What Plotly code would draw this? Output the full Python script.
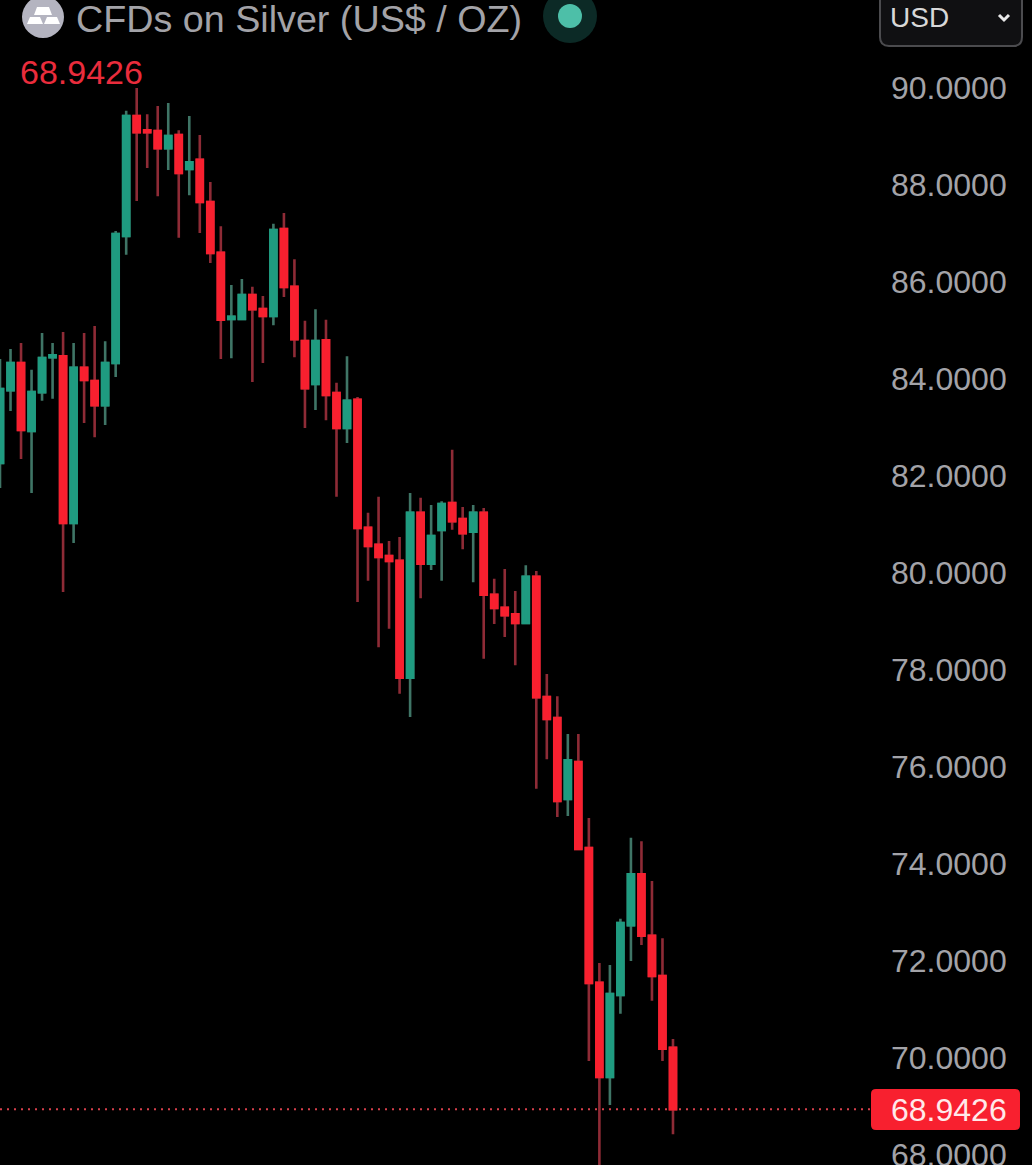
"""Candlestick chart of CFDs on Silver in a dark trading app style."""

import plotly.graph_objects as go

W, H = 1032, 1165

opens = [
    82.27, 83.77, 84.33, 82.93, 83.73, 84.45, 84.47, 81.03, 84.23, 83.96, 83.46, 84.33, 86.95,
    89.42, 89.13, 89.11, 88.76, 89.03, 88.33, 88.52, 87.65, 86.60, 85.24, 85.24, 85.73, 85.44,
    85.30, 87.09, 85.90, 84.78, 83.90, 84.80, 83.71, 82.99, 83.57, 80.93, 80.58, 80.35, 80.25,
    77.84, 81.24, 80.19, 80.89, 81.44, 81.11, 80.85, 81.24, 79.55, 79.28, 79.15, 78.97, 79.92,
    77.44, 77.01, 75.34, 76.10, 74.33, 71.55, 69.61, 71.30, 72.74, 73.79, 72.52, 71.69, 70.21,
]
highs = [
    84.41, 84.62, 84.74, 84.19, 84.95, 84.74, 84.97, 84.74, 84.95, 85.09, 84.78, 87.05, 89.53,
    90.00, 89.46, 89.63, 89.69, 89.13, 89.42, 89.03, 88.06, 87.15, 85.94, 86.06, 85.90, 85.71,
    87.20, 87.42, 86.47, 85.20, 85.44, 85.22, 83.92, 84.47, 83.63, 81.24, 81.57, 80.66, 80.74,
    81.65, 81.55, 81.40, 81.48, 82.54, 81.36, 81.40, 81.34, 79.88, 80.08, 79.63, 80.16, 80.04,
    77.92, 77.46, 76.68, 76.68, 74.95, 71.96, 71.92, 72.87, 74.54, 74.47, 73.65, 72.47, 70.39,
]
lows = [
    81.75, 83.34, 82.35, 81.65, 83.55, 83.59, 79.61, 80.62, 83.09, 82.80, 83.05, 84.04, 86.56,
    87.67, 88.35, 87.77, 88.31, 86.91, 87.79, 87.01, 86.39, 84.41, 84.43, 85.24, 83.94, 84.33,
    85.11, 85.69, 84.45, 82.99, 83.36, 83.15, 81.57, 82.68, 79.40, 79.84, 78.47, 78.85, 77.51,
    77.03, 79.48, 80.06, 79.84, 80.89, 80.49, 79.81, 78.23, 78.95, 78.68, 78.10, 78.95, 75.55,
    76.16, 74.97, 74.99, 74.31, 69.94, 67.59, 69.03, 70.91, 72.00, 72.33, 71.18, 69.94, 68.43,
]
closes = [
    83.79, 84.33, 82.95, 83.73, 84.43, 84.49, 81.03, 84.23, 83.98, 83.46, 84.33, 86.99, 89.42,
    89.09, 89.09, 88.76, 89.01, 88.25, 88.47, 87.65, 86.60, 85.22, 85.28, 85.73, 85.44, 85.30,
    87.07, 85.90, 84.82, 83.81, 84.78, 83.67, 82.99, 83.55, 80.93, 80.56, 80.33, 80.25, 77.84,
    81.24, 80.19, 80.76, 81.42, 81.07, 80.82, 81.24, 79.55, 79.28, 79.13, 78.97, 79.92, 77.44,
    76.99, 75.30, 76.14, 74.31, 71.55, 69.61, 71.32, 72.78, 73.79, 72.52, 71.69, 70.19, 68.9426,
]
candles = list(range(len(closes)))

price_ticks = [90, 88, 86, 84, 82, 80, 78, 76, 74, 72, 70]
price_labels = ["90.0000", "88.0000", "86.0000", "84.0000", "82.0000", "80.0000",
                "78.0000", "76.0000", "74.0000", "72.0000", "70.0000"]
bottom_tick = 68
bottom_label = "68.0000"
last_price = 68.9426
last_label = "68.9426"
title_text = "CFDs on Silver (US$ / OZ)"
currency = "USD"

RED = "#f8202f"
GREEN = "#1f9b80"
RED_WICK = "#8e2b36"
GREEN_WICK = "#3f7566"
GREY = "#a3a3a8"
FONT = "Liberation Sans"


def px(x):
    return x / W


def py(y):
    return 1 - y / H


def poly(points, close=True):
    """SVG path in paper coordinates from page pixel points."""
    path = "M " + " L ".join(f"{px(x):.5f},{py(y):.5f}" for x, y in points)
    return path + (" Z" if close else "")


def circle(cx, cy, r, color):
    return dict(type="circle", xref="paper", yref="paper", x0=px(cx - r), x1=px(cx + r),
                y0=py(cy + r), y1=py(cy - r), fillcolor=color, line_width=0, layer="above")


def rounded(x0, y0, x1, y1, r):
    """Rounded rectangle path in paper coordinates."""
    return (
        f"M {px(x0 + r):.5f},{py(y0):.5f} L {px(x1 - r):.5f},{py(y0):.5f} "
        f"Q {px(x1):.5f},{py(y0):.5f} {px(x1):.5f},{py(y0 + r):.5f} "
        f"L {px(x1):.5f},{py(y1 - r):.5f} "
        f"Q {px(x1):.5f},{py(y1):.5f} {px(x1 - r):.5f},{py(y1):.5f} "
        f"L {px(x0 + r):.5f},{py(y1):.5f} "
        f"Q {px(x0):.5f},{py(y1):.5f} {px(x0):.5f},{py(y1 - r):.5f} "
        f"L {px(x0):.5f},{py(y0 + r):.5f} "
        f"Q {px(x0):.5f},{py(y0):.5f} {px(x0 + r):.5f},{py(y0):.5f} Z"
    )


fig = go.Figure()

# wicks are dimmer than the bodies, so they get their own trace underneath
fig.add_trace(
    go.Candlestick(
        x=candles, open=opens, high=highs, low=lows, close=closes,
        increasing=dict(line=dict(color=GREEN_WICK, width=2.6), fillcolor=GREEN_WICK),
        decreasing=dict(line=dict(color=RED_WICK, width=2.6), fillcolor=RED_WICK),
        showlegend=False, hoverinfo="skip",
    )
)
fig.add_trace(
    go.Candlestick(
        x=candles, open=opens, close=closes,
        high=[max(o, c) for o, c in zip(opens, closes)],
        low=[min(o, c) for o, c in zip(opens, closes)],
        increasing=dict(line=dict(color=GREEN, width=2.6), fillcolor=GREEN),
        decreasing=dict(line=dict(color=RED, width=2.6), fillcolor=RED),
        showlegend=False,
    )
)

shapes = [
    # last price line and tag
    dict(type="line", xref="x domain", yref="y", x0=0, x1=1, y0=last_price, y1=last_price,
         line=dict(color="#d8404c", width=2, dash="2px,5px"), layer="below"),
    dict(type="path", xref="paper", yref="paper", path=rounded(871, 1089, 1020, 1130, 5),
         fillcolor=RED, line_width=0, layer="above"),
    # header icon
    circle(43, 17, 21, "#b4b4c0"),
    dict(type="path", xref="paper", yref="paper", fillcolor="#ffffff", line_width=0, layer="above",
         path=poly([(37, 7), (49, 7), (52, 15), (34, 15)])),
    dict(type="path", xref="paper", yref="paper", fillcolor="#ffffff", line_width=0, layer="above",
         path=poly([(30, 17), (40, 17), (43, 24), (27, 24)])),
    dict(type="path", xref="paper", yref="paper", fillcolor="#ffffff", line_width=0, layer="above",
         path=poly([(47, 17), (57, 17), (60, 24), (44, 24)])),
    # market status dot
    circle(570, 16, 27, "#0c2a26"),
    circle(570, 16, 12, "#4dbfa8"),
    # currency selector
    dict(type="path", xref="paper", yref="paper", path=rounded(880, -12, 1022, 46, 9),
         fillcolor="#101012", line=dict(color="#4b4b4e", width=2), layer="above"),
    dict(type="path", xref="paper", yref="paper", layer="above",
         path=poly([(999, 15), (1004, 20), (1009, 15)], close=False),
         line=dict(color="#e8e8e8", width=3)),
]

annotations = [
    dict(text=title_text, xref="paper", yref="paper", x=px(74), y=py(19), xanchor="left",
         yanchor="middle", showarrow=False, font=dict(family=FONT, size=37.7, color=GREY)),
    dict(text=last_label, xref="paper", yref="paper", x=px(18), y=py(72), xanchor="left",
         yanchor="middle", showarrow=False, font=dict(family=FONT, size=34, color="#ea2c3c")),
    dict(text=last_label, xref="paper", yref="paper", x=px(889), y=py(1110), xanchor="left",
         yanchor="middle", showarrow=False, font=dict(family=FONT, size=32, color="#ffe9ea")),
    dict(text=currency, xref="paper", yref="paper", x=px(888), y=py(17), xanchor="left",
         yanchor="middle", showarrow=False, font=dict(family=FONT, size=28, color="#d8d8d8")),
    # a tick label this close to the page edge gets dropped by the axis
    dict(text=bottom_label, xref="paper", yref="y", x=px(889), y=bottom_tick, xanchor="left",
         yanchor="middle", showarrow=False, font=dict(family=FONT, size=32, color=GREY)),
]

fig.update_layout(
    width=W,
    height=H,
    margin=dict(l=0, r=0, t=0, b=0),
    paper_bgcolor="#000000",
    plot_bgcolor="#000000",
    boxgap=0.42,
    boxgroupgap=0,
    shapes=shapes,
    annotations=annotations,
    xaxis=dict(
        domain=[0, 871 / W], range=[0, 82.83], visible=False, rangeslider=dict(visible=False),
    ),
    yaxis=dict(
        side="right",
        range=[67.794, 91.814],
        tickvals=price_ticks,
        ticktext=price_labels,
        ticks="",
        ticklabelstandoff=19,
        showgrid=False,
        zeroline=False,
        showline=False,
        tickfont=dict(family=FONT, size=32, color=GREY),
    ),
)

# the page default margin would shift the whole figure by 8px
fig.write_html(
    "out.html",
    config={"displayModeBar": False},
    post_script="document.body.style.margin='0';document.body.style.background='#000';",
)
